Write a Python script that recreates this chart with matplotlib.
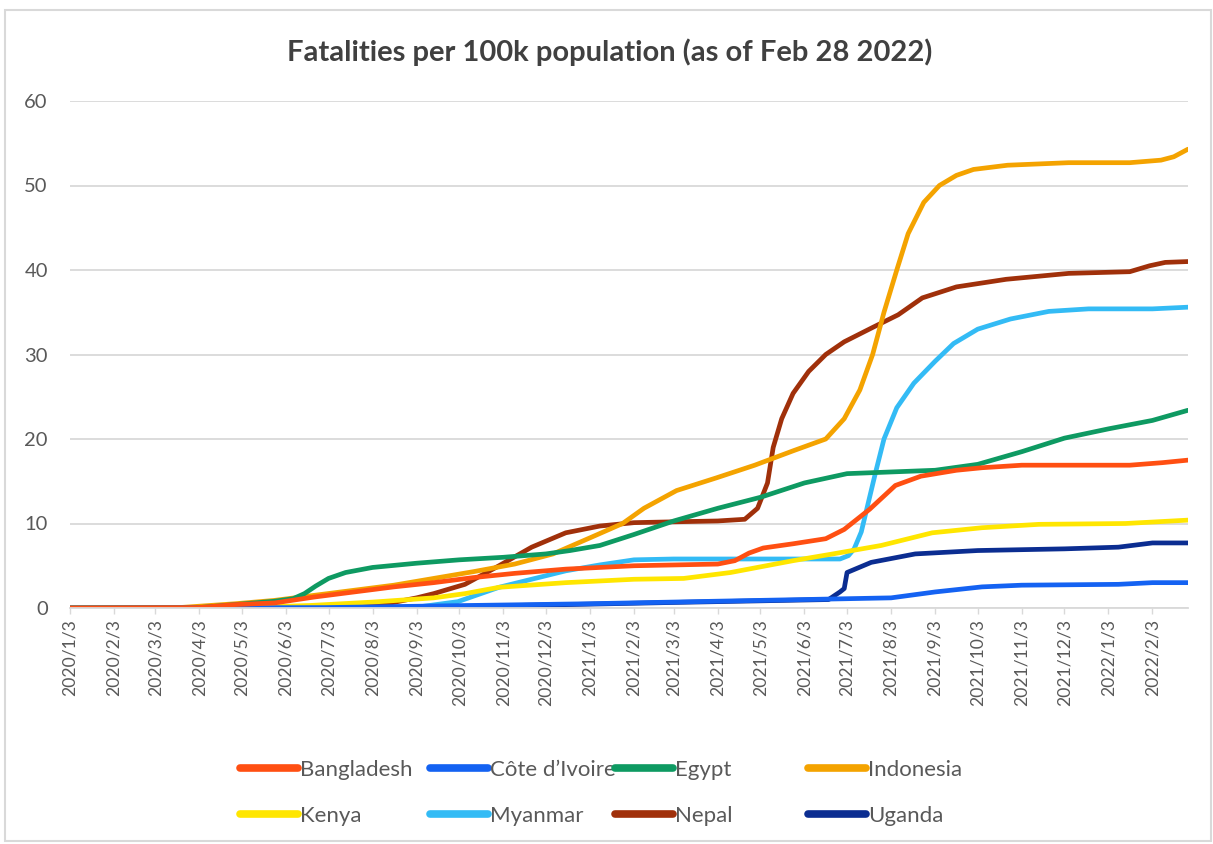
import matplotlib
matplotlib.use("Agg")
import matplotlib.pyplot as plt
import matplotlib.dates as mdates
from matplotlib.lines import Line2D
from matplotlib.patches import Rectangle
import pandas as pd

plt.rcParams["font.family"] = ["Lato", "DejaVu Sans"]

# Cumulative COVID-19 fatalities per 100k population
bangladesh_dates = ["2020-01-03", "2020-04-03", "2020-04-28", "2020-05-26", "2020-06-23",
                    "2020-07-21", "2020-08-18", "2020-09-15", "2020-10-13", "2020-11-11",
                    "2020-12-17", "2021-02-03", "2021-04-03", "2021-04-15", "2021-04-25",
                    "2021-05-05", "2021-05-26", "2021-06-18", "2021-07-01", "2021-07-19",
                    "2021-08-06", "2021-08-24", "2021-09-18", "2021-10-06", "2021-11-03",
                    "2022-01-18", "2022-02-10", "2022-02-28"]
bangladesh_vals = [0, 0.05, 0.4, 0.6, 1.3, 1.9, 2.5, 3.0, 3.6, 4.1, 4.6, 5.0, 5.2, 5.6, 6.5,
                   7.1, 7.6, 8.2, 9.3, 11.7, 14.5, 15.6, 16.3, 16.6, 16.9, 16.9, 17.2, 17.5]

cote_dates = ["2020-01-03", "2020-07-01", "2021-01-01", "2021-04-01", "2021-07-03",
              "2021-08-03", "2021-09-03", "2021-10-06", "2021-11-03", "2022-01-10",
              "2022-02-03", "2022-02-28"]
cote_vals = [0, 0.05, 0.5, 0.8, 1.1, 1.2, 1.9, 2.5, 2.7, 2.8, 3.0, 3.0]

egypt_dates = ["2020-01-03", "2020-04-03", "2020-04-28", "2020-05-26", "2020-06-08",
               "2020-06-16", "2020-06-24", "2020-07-03", "2020-07-15", "2020-08-03",
               "2020-09-03", "2020-10-03", "2020-11-03", "2020-12-03", "2020-12-20",
               "2021-01-10", "2021-02-03", "2021-03-03", "2021-04-03", "2021-05-03",
               "2021-06-03", "2021-07-03", "2021-08-03", "2021-09-03", "2021-10-03",
               "2021-11-03", "2021-12-03", "2022-01-03", "2022-02-03", "2022-02-28"]
egypt_vals = [0, 0.05, 0.4, 0.8, 1.1, 1.7, 2.6, 3.5, 4.2, 4.8, 5.3, 5.7, 6.0, 6.4, 6.8,
              7.4, 8.7, 10.3, 11.8, 13.1, 14.8, 15.9, 16.1, 16.3, 17.0, 18.5, 20.1, 21.2,
              22.2, 23.4]

indonesia_dates = ["2020-01-03", "2020-03-20", "2020-04-28", "2020-05-26", "2020-06-23",
                   "2020-07-21", "2020-08-18", "2020-09-15", "2020-10-13", "2020-11-11",
                   "2020-12-08", "2021-01-03", "2021-01-26", "2021-02-10", "2021-03-05",
                   "2021-04-02", "2021-04-29", "2021-05-26", "2021-06-18", "2021-07-01",
                   "2021-07-12", "2021-07-21", "2021-07-29", "2021-08-07", "2021-08-15",
                   "2021-08-26", "2021-09-06", "2021-09-18", "2021-09-30", "2021-10-24",
                   "2021-12-06", "2022-01-18", "2022-02-09", "2022-02-18", "2022-02-28"]
indonesia_vals = [0, 0.05, 0.5, 0.9, 1.5, 2.1, 2.7, 3.5, 4.3, 5.2, 6.4, 8.3, 10.0, 11.8,
                  13.9, 15.4, 16.9, 18.6, 20.0, 22.4, 25.8, 30.0, 35.0, 40.0, 44.3, 48.0,
                  50.0, 51.2, 51.9, 52.4, 52.7, 52.7, 53.0, 53.4, 54.3]

kenya_dates = ["2020-01-03", "2020-05-01", "2020-06-20", "2020-08-03", "2020-09-15",
               "2020-10-07", "2020-10-31", "2020-12-17", "2021-02-03", "2021-03-10",
               "2021-04-12", "2021-05-26", "2021-06-23", "2021-07-27", "2021-09-01",
               "2021-10-06", "2021-11-15", "2022-01-15", "2022-02-28"]
kenya_vals = [0, 0.05, 0.3, 0.7, 1.2, 1.7, 2.45, 3.0, 3.4, 3.5, 4.2, 5.6, 6.4, 7.4, 8.9,
              9.5, 9.9, 10.0, 10.4]

myanmar_dates = ["2020-01-03", "2020-09-01", "2020-10-02", "2020-10-31", "2020-12-17",
                 "2021-01-10", "2021-02-03", "2021-03-03", "2021-06-28", "2021-07-04",
                 "2021-07-08", "2021-07-13", "2021-07-18", "2021-07-23", "2021-07-29",
                 "2021-08-07", "2021-08-19", "2021-09-03", "2021-09-16", "2021-10-03",
                 "2021-10-26", "2021-11-22", "2021-12-20", "2022-02-03", "2022-02-28"]
myanmar_vals = [0, 0.05, 0.75, 2.45, 4.4, 5.1, 5.7, 5.8, 5.8, 6.2, 7.0, 9.0, 12.5, 16.0,
                20.0, 23.7, 26.6, 29.2, 31.3, 33.0, 34.2, 35.1, 35.4, 35.4, 35.6]

nepal_dates = ["2020-01-03", "2020-07-10", "2020-08-10", "2020-09-03", "2020-09-15",
               "2020-10-07", "2020-10-31", "2020-11-23", "2020-12-17", "2021-01-10",
               "2021-02-03", "2021-03-03", "2021-04-03", "2021-04-22", "2021-05-01",
               "2021-05-08", "2021-05-12", "2021-05-18", "2021-05-26", "2021-06-06",
               "2021-06-18", "2021-07-01", "2021-07-21", "2021-08-08", "2021-08-25",
               "2021-09-18", "2021-10-23", "2021-12-06", "2022-01-18", "2022-02-01",
               "2022-02-12", "2022-02-28"]
nepal_vals = [0, 0.05, 0.4, 1.2, 1.7, 2.8, 5.0, 7.2, 8.9, 9.7, 10.1, 10.2, 10.3, 10.5,
              11.8, 14.8, 19.0, 22.4, 25.4, 28.0, 30.0, 31.5, 33.2, 34.7, 36.7, 38.0,
              38.9, 39.6, 39.8, 40.5, 40.9, 41.0]

uganda_dates = ["2020-01-03", "2020-09-01", "2020-12-17", "2021-03-01", "2021-06-20",
                "2021-06-28", "2021-07-01", "2021-07-03", "2021-07-20", "2021-08-20",
                "2021-10-03", "2021-12-03", "2022-01-10", "2022-02-03", "2022-02-28"]
uganda_vals = [0, 0.1, 0.4, 0.65, 1.0, 1.9, 2.3, 4.2, 5.4, 6.4, 6.8, 7.0, 7.2, 7.7, 7.7]

countries = ["Bangladesh", "Côte d\u2019Ivoire", "Egypt", "Indonesia",
             "Kenya", "Myanmar", "Nepal", "Uganda"]
series_dates = [bangladesh_dates, cote_dates, egypt_dates, indonesia_dates,
                kenya_dates, myanmar_dates, nepal_dates, uganda_dates]
series_vals = [bangladesh_vals, cote_vals, egypt_vals, indonesia_vals,
               kenya_vals, myanmar_vals, nepal_vals, uganda_vals]
colors = ["#FF4F12", "#1462F2", "#0E9A62", "#F4A300",
          "#FFE600", "#33BBF5", "#A0300A", "#0B2D91"]

y_ticks = [0, 10, 20, 30, 40, 50, 60]
title = "Fatalities per 100k population (as of Feb 28 2022)"

fig = plt.figure(figsize=(12.13, 8.44), dpi=100)
fig.patch.set_facecolor("white")

# light chart-area frame
fig.patches.append(Rectangle((5 / 1213, 3 / 844), 1206 / 1213, 831 / 844,
                             transform=fig.transFigure, fill=False,
                             edgecolor="#D9D9D9", linewidth=1.5))

ax = fig.add_axes([70 / 1213, 1 - 608 / 844, 1118 / 1213, 507 / 844])

lines = []
# draw in reverse so the earlier series sit on top
for name, d, v, c in reversed(list(zip(countries, series_dates, series_vals, colors))):
    ln, = ax.plot(pd.to_datetime(d), v, color=c, linewidth=3.4,
                  solid_joinstyle="round", solid_capstyle="round", label=name)
    lines.append(ln)
lines = lines[::-1]

ax.set_xlim(pd.Timestamp("2020-01-03"), pd.Timestamp("2022-02-28"))
ax.set_ylim(0, 60)
ax.set_yticks(y_ticks)
ax.yaxis.grid(True, color="#D9D9D9", linewidth=1.3)
ax.set_axisbelow(True)

ax.xaxis.set_major_locator(mdates.MonthLocator(bymonthday=3))
ax.xaxis.set_major_formatter(
    plt.FuncFormatter(lambda x, _: (lambda d: f"{d.year}/{d.month}/{d.day}")(mdates.num2date(x))))

for s in ["top", "right", "left"]:
    ax.spines[s].set_visible(False)
ax.spines["bottom"].set_color("#D9D9D9")
ax.spines["bottom"].set_linewidth(1.3)

ax.tick_params(axis="x", labelrotation=90, labelsize=12.6, colors="#595959",
               length=4, width=1, color="#D9D9D9", pad=4)
ax.tick_params(axis="y", labelsize=14.5, colors="#595959", length=0, pad=16)

fig.text(610 / 1213, 1 - 52 / 844, title, ha="center", va="center",
         fontsize=21, fontweight="bold", color="#404040")

# legend: four columns of two entries each
col_x = [240, 430, 615, 808]
for i in range(4):
    hs = [Line2D([], [], color=colors[i], linewidth=5.5, solid_capstyle="round"),
          Line2D([], [], color=colors[i + 4], linewidth=5.5, solid_capstyle="round")]
    fig.legend(hs, [countries[i], countries[i + 4]], loc="upper left",
               bbox_to_anchor=(col_x[i] / 1213, 1 - 760 / 844),
               frameon=False, fontsize=16, labelcolor="#595959",
               handlelength=2.6, handletextpad=0.1, labelspacing=1.17,
               borderpad=0, borderaxespad=0)

fig.savefig("out.png", dpi=100, facecolor="white")
